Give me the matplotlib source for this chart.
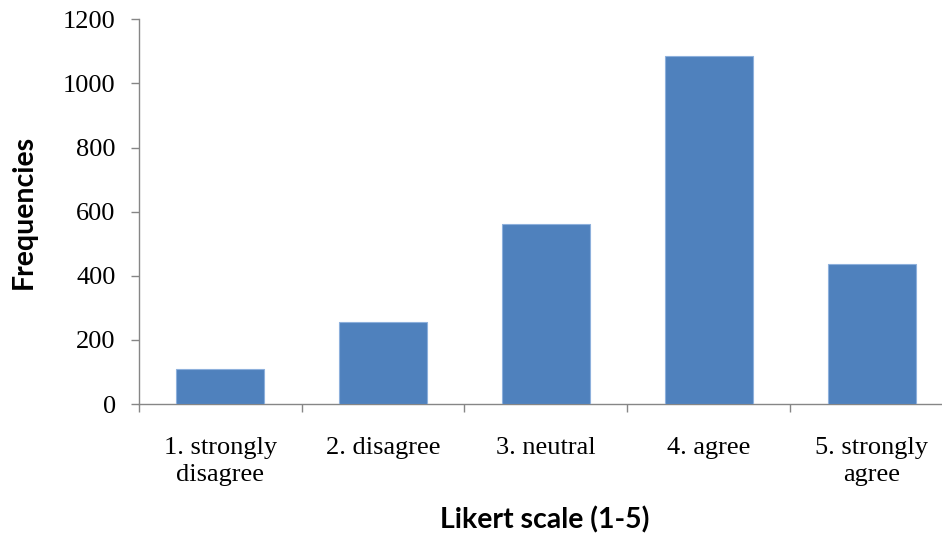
import matplotlib
matplotlib.use("Agg")
import matplotlib.pyplot as plt
import numpy as np

categories = ["1. strongly\ndisagree", "2. disagree", "3. neutral", "4. agree", "5. strongly\nagree"]
frequencies = [109, 257, 561, 1087, 436]
y_ticks = [0, 200, 400, 600, 800, 1000, 1200]

fig = plt.figure(figsize=(9.42, 5.34), dpi=100)
ax = fig.add_axes([0.1472, 0.2434, 0.8645, 0.7205])

x = np.arange(len(categories))
ax.bar(x, frequencies, width=0.54, color="#4F81BD", edgecolor="#8DB0DC", linewidth=0.8, zorder=3)

ax.set_xlim(-0.5, len(categories) - 0.5)
ax.set_ylim(0, 1200)
ax.set_yticks(y_ticks)
ax.set_yticklabels([str(v) for v in y_ticks], family="Liberation Serif", fontsize=19)

ax.set_xticks(x)
ax.set_xticklabels(categories, family="Liberation Serif", fontsize=19, linespacing=1.25)
ax.tick_params(axis="x", length=0, pad=24)
ax.set_xticks(np.arange(len(categories) + 1) - 0.5, minor=True)
ax.tick_params(axis="x", which="minor", length=6, color="#868686", width=1)
ax.tick_params(axis="y", length=5.5, color="#868686", width=1, pad=11)

for s in ["top", "right"]:
    ax.spines[s].set_visible(False)
for s in ["left", "bottom"]:
    ax.spines[s].set_color("#868686")
    ax.spines[s].set_linewidth(1)

ax.set_xlabel("Likert scale (1-5)", family="Lato", fontweight="bold", fontsize=20.5)
ax.xaxis.set_label_coords(0.499, -0.265)
ax.set_ylabel("Frequencies", family="Lato", fontweight="bold", fontsize=20.5)
ax.yaxis.set_label_coords(-0.125, 0.5)

fig.savefig("out.png", dpi=100)
